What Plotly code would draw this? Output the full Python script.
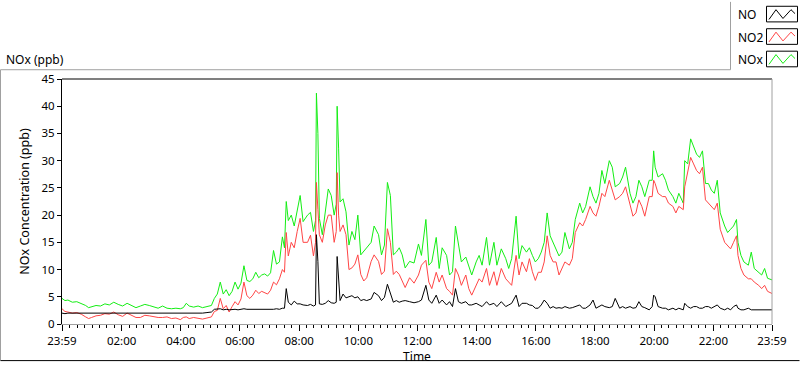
import plotly.graph_objects as go
import pandas as pd

# elapsed hours since 23:59 of the previous day
elapsed_h = [0.0, 0.1, 0.2, 0.35, 0.5, 0.65, 0.8, 0.9, 1.0, 1.15, 1.3, 1.45, 1.6, 1.75, 1.9, 2.05, 2.2, 2.35, 2.5, 2.65,
             2.8, 2.95, 3.1, 3.25, 3.4, 3.55, 3.7, 3.85, 4.0, 4.1, 4.2, 4.3, 4.45, 4.6, 4.75, 4.9, 5.05, 5.15, 5.25, 5.35,
             5.45, 5.55, 5.65, 5.75, 5.85, 5.95, 6.05, 6.15, 6.25, 6.35, 6.45, 6.55, 6.65, 6.75, 6.85, 6.95, 7.05, 7.15, 7.25, 7.35,
             7.45, 7.52, 7.58, 7.65, 7.75, 7.85, 7.95, 8.05, 8.15, 8.3, 8.4, 8.5, 8.57, 8.6, 8.65, 8.7, 8.8, 8.9, 9.0, 9.1,
             9.2, 9.27, 9.3, 9.35, 9.4, 9.5, 9.6, 9.7, 9.8, 9.9, 10.0, 10.1, 10.2, 10.3, 10.45, 10.55, 10.7, 10.8, 10.9, 11.0,
             11.1, 11.2, 11.3, 11.4, 11.5, 11.6, 11.75, 11.9, 12.05, 12.15, 12.3, 12.4, 12.5, 12.65, 12.75, 12.85, 13.0, 13.1, 13.2, 13.3,
             13.4, 13.5, 13.65, 13.75, 13.85, 14.0, 14.1, 14.2, 14.35, 14.45, 14.6, 14.7, 14.85, 15.0, 15.1, 15.2, 15.35, 15.45, 15.55, 15.7,
             15.8, 15.9, 16.0, 16.1, 16.2, 16.3, 16.4, 16.5, 16.6, 16.7, 16.8, 16.9, 17.0, 17.15, 17.25, 17.35, 17.5, 17.6, 17.7, 17.85,
             17.95, 18.05, 18.15, 18.25, 18.35, 18.5, 18.6, 18.7, 18.85, 18.95, 19.05, 19.2, 19.3, 19.4, 19.5, 19.6, 19.7, 19.85, 19.95, 20.0,
             20.05, 20.15, 20.3, 20.4, 20.5, 20.65, 20.75, 20.85, 21.0, 21.05, 21.15, 21.25, 21.35, 21.45, 21.55, 21.65, 21.75, 21.85, 21.95, 22.05,
             22.15, 22.25, 22.4, 22.5, 22.6, 22.7, 22.8, 22.85, 22.95, 23.05, 23.2, 23.3, 23.4, 23.55, 23.65, 23.75, 23.85, 24.0]

nox = [4.7, 4.3, 4.4, 4.0, 4.1, 3.8, 3.4, 3.0, 3.2, 3.4, 3.3, 3.7, 3.5, 4.0, 3.6, 3.3, 3.8, 3.4, 3.0, 3.3,
       3.6, 3.4, 3.2, 2.9, 3.3, 2.9, 2.8, 2.9, 2.8, 3.0, 3.8, 3.3, 3.1, 3.3, 3.0, 3.2, 3.4, 4.7, 5.5, 7.7,
       5.5, 6.3, 5.2, 6.0, 7.7, 6.4, 7.5, 10.7, 8.0, 7.8, 8.3, 9.5, 8.5, 9.0, 9.2, 8.8, 9.4, 13.5, 11.0, 11.4,
       16.0, 14.0, 22.5, 19.0, 20.0, 18.0, 21.0, 23.6, 18.8, 20.0, 20.5, 17.0, 19.0, 42.4, 35.0, 19.4, 16.4, 21.0, 24.8, 23.6,
       20.0, 22.0, 40.0, 32.3, 22.4, 23.0, 20.6, 14.5, 17.0, 15.5, 20.0, 12.7, 13.3, 14.0, 15.0, 18.0, 16.4, 12.7, 14.5, 26.0,
       23.6, 12.7, 13.2, 14.0, 12.7, 10.3, 11.5, 11.2, 14.7, 12.6, 19.2, 10.8, 11.4, 15.9, 10.2, 14.0, 12.6, 9.0, 9.6, 18.0,
       14.4, 11.4, 12.3, 10.8, 9.0, 11.4, 12.6, 10.8, 15.9, 10.8, 15.0, 10.8, 13.8, 12.0, 10.2, 12.0, 19.8, 12.0, 14.4, 13.2,
       14.0, 12.6, 11.4, 12.0, 13.2, 15.0, 20.4, 16.2, 15.0, 13.8, 12.5, 13.2, 16.8, 13.8, 15.0, 19.2, 22.2, 20.4, 21.6, 25.2,
       23.4, 22.2, 24.0, 28.2, 25.8, 30.0, 28.8, 25.2, 25.8, 27.0, 28.8, 24.0, 22.2, 23.4, 26.4, 25.2, 23.4, 26.4, 26.4, 31.8,
       28.8, 27.0, 27.6, 26.4, 24.6, 23.4, 22.2, 24.0, 22.2, 30.0, 29.4, 34.0, 32.4, 31.2, 30.6, 31.8, 25.8, 25.8, 24.6, 24.0,
       26.4, 20.4, 18.0, 16.8, 17.4, 18.0, 19.2, 15.0, 12.6, 11.4, 10.8, 13.2, 10.2, 9.5, 9.0, 10.2, 8.4, 8.1]

no2 = [2.8, 2.3, 2.2, 2.0, 2.1, 1.8, 1.3, 1.0, 1.2, 1.5, 1.6, 1.9, 1.8, 2.2, 1.7, 1.4, 2.0, 1.6, 1.2, 1.2,
       1.6, 1.5, 1.3, 1.2, 1.2, 1.3, 1.0, 1.1, 0.8, 1.2, 1.3, 1.0, 1.2, 1.0, 0.9, 1.1, 1.3, 2.3, 2.5, 4.7,
       2.8, 3.4, 2.2, 3.2, 4.1, 3.5, 4.6, 7.7, 5.2, 4.7, 5.3, 6.2, 5.6, 6.0, 5.8, 5.5, 6.2, 7.7, 7.2, 8.3,
       10.0, 9.5, 16.8, 12.5, 15.0, 14.0, 17.0, 19.4, 15.0, 15.0, 16.3, 12.5, 15.0, 26.0, 21.0, 16.4, 15.0, 18.2, 20.0, 20.0,
       15.0, 17.0, 27.8, 20.0, 17.0, 18.2, 16.4, 10.0, 10.3, 11.0, 12.7, 9.1, 7.9, 8.5, 11.5, 12.7, 11.5, 9.1, 9.7, 17.5,
       15.0, 9.1, 9.7, 9.1, 7.9, 6.7, 8.5, 7.5, 9.0, 10.8, 11.7, 7.7, 6.5, 9.5, 7.7, 9.0, 6.5, 6.0, 5.3, 10.2,
       9.0, 7.1, 9.0, 6.5, 5.3, 7.1, 8.3, 7.7, 10.2, 7.1, 9.6, 7.1, 10.2, 8.3, 7.7, 7.1, 12.6, 9.0, 11.4, 9.6,
       12.0, 9.6, 8.0, 9.5, 9.5, 11.4, 16.2, 12.6, 11.4, 11.4, 9.0, 10.2, 11.4, 10.8, 12.0, 16.8, 18.6, 18.0, 19.2, 21.6,
       20.4, 19.8, 21.6, 24.0, 23.4, 26.4, 24.6, 22.8, 23.4, 24.0, 25.2, 21.6, 19.8, 20.4, 22.8, 21.6, 19.8, 23.4, 23.4, 26.4,
       25.8, 24.0, 23.4, 23.4, 22.2, 21.6, 20.4, 21.6, 21.0, 25.2, 27.6, 30.6, 29.4, 28.2, 27.6, 28.8, 22.8, 22.2, 21.6, 21.0,
       22.2, 17.4, 15.0, 14.4, 13.8, 15.0, 16.2, 12.6, 10.2, 9.0, 8.3, 8.3, 7.7, 7.1, 6.5, 7.1, 6.0, 5.6]

no = [2.0, 1.9, 2.0, 2.0, 1.9, 2.0, 1.9, 2.0, 1.9, 2.0, 1.9, 2.0, 1.9, 2.0, 1.9, 2.0, 1.9, 1.9, 2.0, 1.9,
      2.0, 1.9, 2.0, 1.9, 2.0, 1.9, 2.0, 2.0, 2.0, 2.0, 2.0, 2.0, 2.0, 2.0, 2.0, 2.1, 2.2, 2.7, 2.7, 2.8,
      2.6, 2.7, 2.6, 2.7, 2.7, 2.6, 2.7, 2.8, 2.7, 2.7, 2.6, 2.7, 2.7, 2.6, 2.7, 2.7, 2.6, 2.7, 2.8, 2.7,
      2.9, 2.9, 6.5, 4.0, 3.5, 4.2, 3.7, 3.7, 3.5, 3.4, 3.6, 3.3, 3.5, 16.4, 11.5, 3.7, 3.6, 3.8, 4.3, 3.9,
      3.8, 4.0, 12.4, 8.0, 4.3, 5.5, 4.8, 5.0, 5.2, 4.8, 5.0, 4.3, 4.5, 4.3, 4.6, 5.8, 5.2, 4.3, 4.9, 7.3,
      5.5, 4.0, 4.3, 4.0, 4.2, 4.3, 4.1, 3.9, 4.1, 4.4, 7.1, 4.4, 3.8, 5.3, 3.8, 4.4, 3.5, 4.1, 3.2, 6.5,
      4.1, 3.8, 4.1, 3.5, 3.5, 3.8, 3.5, 3.2, 4.1, 3.5, 3.8, 3.2, 4.1, 3.2, 3.5, 3.8, 5.3, 3.2, 3.8, 3.8,
      3.5, 3.4, 2.9, 2.9, 3.5, 4.4, 3.8, 2.9, 3.2, 2.9, 3.0, 2.9, 3.2, 2.9, 3.0, 3.2, 3.5, 2.9, 2.9, 3.5,
      4.4, 2.9, 3.2, 3.5, 3.2, 3.0, 3.2, 4.7, 2.9, 3.2, 2.9, 3.2, 2.9, 3.0, 4.1, 3.2, 3.0, 2.6, 3.2, 5.3,
      5.0, 3.2, 2.9, 2.9, 2.6, 2.9, 2.6, 2.9, 2.6, 3.8, 3.2, 2.9, 3.2, 3.2, 2.9, 2.9, 3.2, 3.2, 2.9, 3.2,
      3.5, 2.9, 2.6, 2.9, 2.6, 3.2, 3.5, 2.9, 2.6, 2.6, 2.9, 2.6, 2.6, 2.6, 2.6, 2.6, 2.6, 2.6]

tick_labels = ["23:59", "02:00", "04:00", "06:00", "08:00", "10:00", "12:00",
               "14:00", "16:00", "18:00", "20:00", "22:00", "23:59"]
y_ticks = [0, 5, 10, 15, 20, 25, 30, 35, 40, 45]
series_names = ["NO", "NO2", "NOx"]
series_colors = ["#000000", "#ff4545", "#14ee14"]

base = pd.Timestamp("2024-01-01 23:59")
times = [base + pd.Timedelta(hours=h) for h in elapsed_h]
end = base + pd.Timedelta(hours=24)
tick_vals = [base] + [pd.Timestamp("2024-01-02") + pd.Timedelta(hours=2 * k) for k in range(1, 12)] + [end]

fig = go.Figure()
for name, vals, col in [("NOx", nox, series_colors[2]), ("NO2", no2, series_colors[1]), ("NO", no, series_colors[0])]:
    fig.add_trace(go.Scatter(x=times, y=vals, mode="lines", name=name,
                             line=dict(color=col, width=1), showlegend=False, hoverinfo="skip"))

W, H = 800, 369
L, R, T, B = 62, 28, 79, 39
PW, PH = W - L - R, H - T - B

def px(x):
    return (x - L) / PW

def py(y):
    return (H - B - y) / PH

font = "Noto Sans, Open Sans, sans-serif"
fig.update_layout(
    width=W, height=H, autosize=False,
    margin=dict(l=L, r=R, t=T, b=B, pad=0),
    paper_bgcolor="white", plot_bgcolor="white",
    font=dict(family=font, size=11, color="#000"),
    xaxis=dict(type="date", range=[base, end], tickmode="array", tickvals=tick_vals, ticktext=tick_labels,
               ticks="outside", ticklen=6, tickwidth=1, tickcolor="#000", showgrid=False, zeroline=False,
               showline=True, linecolor="#a0a0a0", linewidth=1,
               minor=dict(ticks="outside", ticklen=3, tickcolor="#000", dtick=15 * 60 * 1000,
                          tick0="2024-01-02 00:00", showgrid=False),
               title=dict(text="Time", font=dict(size=12), standoff=1),
               tickfont=dict(size=11.5)),
    yaxis=dict(range=[0, 45], tickmode="array", tickvals=y_ticks, ticks="outside", ticklen=4,
               tickcolor="#000", showgrid=False, zeroline=False, showline=True, linecolor="#000",
               linewidth=1, title=dict(text="NOx Concentration (ppb)", font=dict(size=12.5), standoff=9),
               tickfont=dict(size=11.5)),
)

shapes = []
# plot-area top (dark) and right (grey) borders
shapes.append(dict(type="line", xref="paper", yref="paper", x0=0, x1=1, y0=1, y1=1, line=dict(color="#000", width=1)))
shapes.append(dict(type="line", xref="paper", yref="paper", x0=1, x1=1, y0=0, y1=1, line=dict(color="#a0a0a0", width=1)))
# outer frame
shapes.append(dict(type="line", xref="paper", yref="paper", x0=px(0.5), x1=px(730.5), y0=py(69.5), y1=py(69.5), line=dict(color="#a0a0a0", width=1)))
shapes.append(dict(type="line", xref="paper", yref="paper", x0=px(0.5), x1=px(0.5), y0=py(69.5), y1=py(367.5), line=dict(color="#a0a0a0", width=1)))
shapes.append(dict(type="line", xref="paper", yref="paper", x0=px(0.5), x1=px(799.5), y0=py(367.5), y1=py(367.5), line=dict(color="#000", width=1)))
# legend box
shapes.append(dict(type="line", xref="paper", yref="paper", x0=px(730.5), x1=px(730.5), y0=py(0), y1=py(69.5), line=dict(color="#a0a0a0", width=1)))

annotations = [
    dict(text="NOx (ppb)", xref="paper", yref="paper", x=px(4), y=py(59), xanchor="left", yanchor="middle",
         showarrow=False, font=dict(size=12, family=font, color="#000")),
]
legend_rows = [13, 36, 59]
for i, (nm, col) in enumerate(zip(series_names, series_colors)):
    yc = legend_rows[i]
    annotations.append(dict(text=nm, xref="paper", yref="paper", x=px(736), y=py(yc), xanchor="left",
                            yanchor="middle", showarrow=False, font=dict(size=12, family=font, color="#000")))
    shapes.append(dict(type="rect", xref="paper", yref="paper", x0=px(766.5), x1=px(797.5),
                       y0=py(yc - 8.5), y1=py(yc + 7.5), line=dict(color="#000", width=1), fillcolor="white"))
    pts = [(769, yc + 5), (776, yc - 5), (783, yc + 4), (791, yc - 5), (795, yc - 1)]
    path = "M " + " L ".join(f"{px(a):.5f},{py(b):.5f}" for a, b in pts)
    shapes.append(dict(type="path", xref="paper", yref="paper", path=path, line=dict(color=col, width=1)))

fig.update_layout(shapes=shapes, annotations=annotations)
fig.write_html("out.html", config={"displayModeBar": False, "staticPlot": True},
               post_script="document.body.style.margin='0';document.body.style.overflow='hidden';")
